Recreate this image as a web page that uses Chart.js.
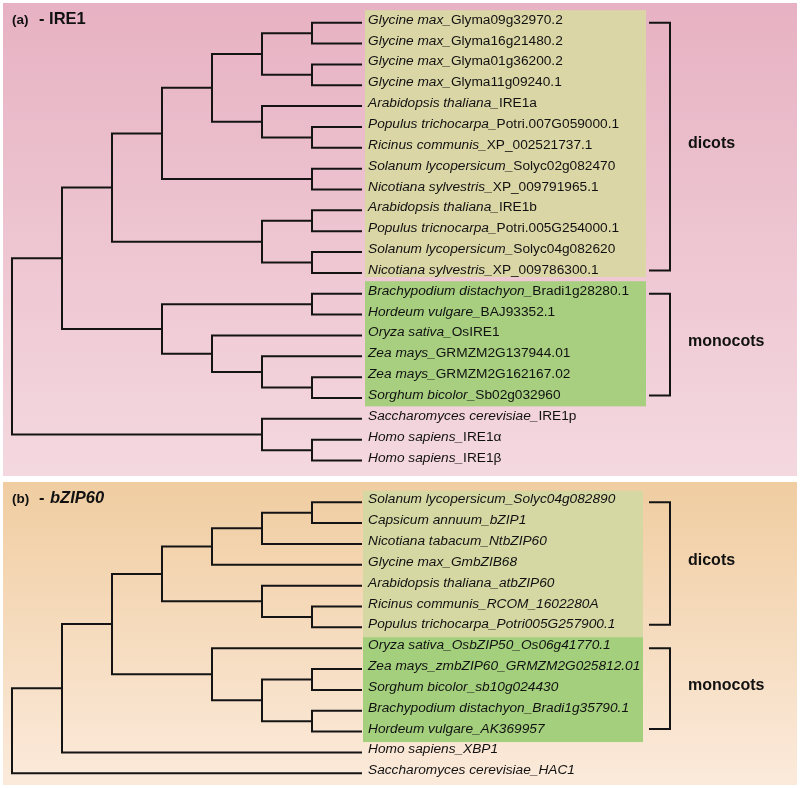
<!DOCTYPE html>
<html>
<head>
<meta charset="utf-8">
<script src="https://cdn.jsdelivr.net/npm/chart.js@4.4.0/dist/chart.umd.min.js"></script>
<style>
  html, body { margin: 0; padding: 0; background: #fff; }
  #wrap { width: 800px; height: 788px; position: relative; }
</style>
</head>
<body>
<div id="wrap"><canvas id="treeChart"></canvas></div>
<script>
// (a) IRE1 tree, leaves top to bottom
const ireSpecies = [
  'Glycine max', 'Glycine max', 'Glycine max', 'Glycine max',
  'Arabidopsis thaliana', 'Populus trichocarpa', 'Ricinus communis',
  'Solanum lycopersicum', 'Nicotiana sylvestris', 'Arabidopsis thaliana',
  'Populus tricnocarpa', 'Solanum lycopersicum', 'Nicotiana sylvestris',
  'Brachypodium distachyon', 'Hordeum vulgare', 'Oryza sativa', 'Zea mays',
  'Zea mays', 'Sorghum bicolor', 'Saccharomyces cerevisiae', 'Homo sapiens', 'Homo sapiens'
];
const ireIds = [
  'Glyma09g32970.2', 'Glyma16g21480.2', 'Glyma01g36200.2', 'Glyma11g09240.1',
  'IRE1a', 'Potri.007G059000.1', 'XP_002521737.1', 'Solyc02g082470', 'XP_009791965.1',
  'IRE1b', 'Potri.005G254000.1', 'Solyc04g082620', 'XP_009786300.1',
  'Bradi1g28280.1', 'BAJ93352.1', 'OsIRE1', 'GRMZM2G137944.01', 'GRMZM2G162167.02',
  'Sb02g032960', 'IRE1p', 'IRE1\u03b1', 'IRE1\u03b2'
];
// topology as nested pairs of leaf indices
const ireTree = [[[[[[[0,1],[2,3]],[4,[5,6]]],[7,8]],[[9,10],[11,12]]],[[13,14],[15,[16,[17,18]]]]],[19,[20,21]]];
const ireGroups = [['dicots', 0, 12], ['monocots', 13, 18]];

// (b) bZIP60 tree
const bzSpecies = [
  'Solanum lycopersicum', 'Capsicum annuum', 'Nicotiana tabacum', 'Glycine max',
  'Arabidopsis thaliana', 'Ricinus communis', 'Populus trichocarpa', 'Oryza sativa',
  'Zea mays', 'Sorghum bicolor', 'Brachypodium distachyon', 'Hordeum vulgare',
  'Homo sapiens', 'Saccharomyces cerevisiae'
];
const bzIds = [
  'Solyc04g082890', 'bZIP1', 'NtbZIP60', 'GmbZIB68', 'atbZIP60', 'RCOM_1602280A',
  'Potri005G257900.1', 'OsbZIP50_Os06g41770.1', 'zmbZIP60_GRMZM2G025812.01',
  'sb10g024430', 'Bradi1g35790.1', 'AK369957', 'XBP1', 'HAC1'
];
const bzTree = [[[[[[[0,1],2],3],[4,[5,6]]],[7,[[8,9],[10,11]]]],12],13];
const bzGroups = [['dicots', 0, 6], ['monocots', 7, 11]];
const bzRowOffset = 23;

function layoutTree(node, offset, segs) {
  if (typeof node === 'number') return { h: 0, y: node + offset };
  const kids = node.map(n => layoutTree(n, offset, segs));
  const h = Math.max(...kids.map(k => k.h)) + 1;
  const first = kids[0], last = kids[kids.length - 1];
  const y = (first.y + last.y) / 2;
  segs.push([{ x: first.h, y: first.y }, { x: h, y: first.y }, { x: h, y: last.y }, { x: last.h, y: last.y }]);
  return { h, y };
}

const segments = [];
layoutTree(ireTree, 0, segments);
layoutTree(bzTree, bzRowOffset, segments);

const FONT = '"Liberation Sans", Arial, sans-serif';

const treeDecor = {
  id: 'treeDecor',
  beforeDraw(chart) {
    const { ctx, scales: { x, y } } = chart;
    ctx.save();
    let g = ctx.createLinearGradient(0, 3, 0, 476);
    g.addColorStop(0, '#e7b2c3');
    g.addColorStop(1, '#f4d8e0');
    ctx.fillStyle = g;
    ctx.fillRect(3, 3, 794, 473);
    g = ctx.createLinearGradient(0, 482, 0, 785);
    g.addColorStop(0, '#f0cda1');
    g.addColorStop(1, '#fbeadb');
    ctx.fillStyle = g;
    ctx.fillRect(3, 482, 794, 303);

    const leafX = x.getPixelForValue(0);
    const box = (from, to, top, bot, left, right, color) => {
      const y0 = y.getPixelForValue(from - top);
      const y1 = y.getPixelForValue(to + bot);
      ctx.fillStyle = color;
      ctx.fillRect(left, y0, right - left, y1 - y0);
    };
    box(0, 12, 0.6, 0.2, leafX + 3, 646, '#dbd6a6');
    box(13, 18, 0.6, 0.4, leafX + 3, 646, '#a7cf7f');
    box(bzRowOffset, bzRowOffset + 6, 0.55, 0.47, leafX + 1, 643, '#d5d8a3');
    box(bzRowOffset + 7, bzRowOffset + 11, 0.53, 0.5, leafX + 1, 643, '#a4d07d');
    ctx.restore();
  },
  afterDatasetsDraw(chart) {
    const { ctx, scales: { x, y } } = chart;
    const leafX = x.getPixelForValue(0);
    ctx.save();
    ctx.fillStyle = '#111';
    ctx.textBaseline = 'alphabetic';
    ctx.textAlign = 'left';

    const drawLabels = (species, ids, offset, idItalic) => {
      species.forEach((sp, i) => {
        const py = y.getPixelForValue(i + offset) + 1;
        ctx.font = 'italic 13.7px ' + FONT;
        const name = sp + '_';
        ctx.fillText(name, leafX + 6, py);
        const w = ctx.measureText(name).width;
        ctx.font = (idItalic ? 'italic ' : '') + '13.7px ' + FONT;
        ctx.fillText(ids[i], leafX + 6 + w, py);
      });
    };
    drawLabels(ireSpecies, ireIds, 0, false);
    drawLabels(bzSpecies, bzIds, bzRowOffset, true);

    // clade brackets
    ctx.strokeStyle = '#141414';
    ctx.lineWidth = 2;
    const bracket = (name, from, to) => {
      const y0 = y.getPixelForValue(from);
      const y1 = y.getPixelForValue(to - 0.12);
      ctx.beginPath();
      ctx.moveTo(649, y0);
      ctx.lineTo(670, y0);
      ctx.lineTo(670, y1);
      ctx.lineTo(649, y1);
      ctx.stroke();
      ctx.font = 'bold 16px ' + FONT;
      ctx.fillText(name, 688, (y0 + y1) / 2 + 1);
    };
    ireGroups.forEach(gp => bracket(gp[0], gp[1], gp[2]));
    bzGroups.forEach(gp => bracket(gp[0], gp[1] + bzRowOffset, gp[2] + bzRowOffset));

    // panel titles
    ctx.font = 'bold 13.5px ' + FONT;
    ctx.fillText('(a)', 12, 24);
    ctx.fillText('(b)', 12, 503);
    ctx.font = 'bold 16.5px ' + FONT;
    ctx.fillText('- IRE1', 39, 24);
    ctx.fillText('-', 39, 503);
    ctx.font = 'italic bold 16.5px ' + FONT;
    ctx.fillText('bZIP60', 50, 503);
    ctx.restore();
  }
};

new Chart(document.getElementById('treeChart'), {
  type: 'scatter',
  data: {
    datasets: segments.map(s => ({
      data: s,
      showLine: true,
      borderColor: '#141414',
      borderWidth: 2,
      pointRadius: 0,
      tension: 0,
      fill: false,
      clip: false
    }))
  },
  options: {
    responsive: true,
    maintainAspectRatio: false,
    animation: false,
    events: [],
    layout: { padding: 0 },
    plugins: { legend: { display: false }, tooltip: { enabled: false } },
    scales: {
      x: { type: 'linear', display: false, reverse: true, min: -8.76, max: 7.24 },
      y: { type: 'linear', display: false, reverse: true, min: -1.089, max: 36.705 }
    }
  },
  plugins: [treeDecor]
});
</script>
</body>
</html>
